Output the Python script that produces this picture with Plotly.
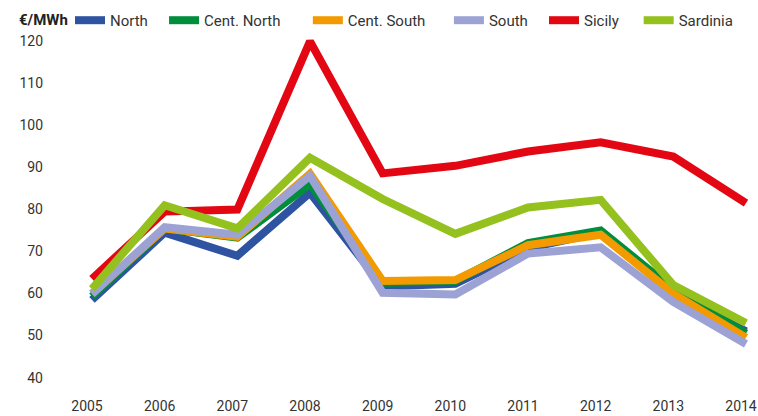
import plotly.graph_objects as go

years = [2005, 2006, 2007, 2008, 2009, 2010, 2011, 2012, 2013, 2014]
north = [58.5, 74.5, 69.0, 84.0, 61.7, 62.3, 70.8, 74.5, 60.0, 51.0]
cent_north = [59.3, 75.5, 73.3, 86.0, 62.5, 63.0, 72.0, 75.0, 61.0, 50.5]
cent_south = [60.0, 75.5, 73.5, 88.5, 63.0, 63.2, 71.5, 74.0, 60.0, 49.5]
south = [59.9, 75.8, 74.0, 88.0, 60.2, 59.8, 69.5, 71.0, 58.0, 48.0]
sicily = [63.5, 79.5, 80.0, 120.0, 88.6, 90.4, 93.8, 96.0, 92.6, 81.5]
sardinia = [61.1, 81.0, 75.5, 92.3, 82.5, 74.2, 80.5, 82.3, 62.0, 53.0]

names = ["North", "Cent. North", "Cent. South", "South", "Sicily", "Sardinia"]
colors = ["#2E53A1", "#008D3C", "#F39A00", "#9CA3D4", "#E30613", "#95C11F"]
values = [north, cent_north, cent_south, south, sicily, sardinia]
legend_pad = [3, 6, 5, 3, 4, 0]  # trailing spaces to widen legend entries

y_ticks = [40, 50, 60, 70, 80, 90, 100, 110, 120]
unit_label = "€/MWh"

fig = go.Figure()
for name, vals, color, pad in zip(names, values, colors, legend_pad):
    fig.add_trace(go.Scatter(
        x=years, y=vals, name=name + "\u00a0" * pad, mode="lines",
        line=dict(color=color, width=8),
        cliponaxis=False,
    ))
# empty trace so the label-only x axis (x2) gets drawn
fig.add_trace(go.Scatter(x=[], y=[], xaxis="x2", yaxis="y", showlegend=False,
                         hoverinfo="skip", mode="lines"))

W, H = 758, 416
ppu = (378 - 41) / 80.0
top_px = 41 - 2 * ppu
bot_px = 378 + 2 * ppu
first_px, last_px = 92, 746          # pixel x of first / last year
left_px, right_px = 84, 754          # plot area edges
ppy = (last_px - first_px) / (years[-1] - years[0])
x_lo = years[0] - (first_px - left_px) / ppy
x_hi = years[-1] + (right_px - last_px) / ppy
ml, mr = left_px, W - right_px
mt, mb = top_px, H - bot_px
pw = right_px - left_px
ph = bot_px - top_px
leg_y = 1 + (top_px - 20) / ph
shift = 5 / ppy  # tick labels sit a few px left of the data points

fig.update_layout(
    width=W, height=H,
    margin=dict(l=ml, r=mr, t=mt, b=mb, autoexpand=False),
    paper_bgcolor="white", plot_bgcolor="white",
    font=dict(family="Roboto, sans-serif", size=15, color="#333333"),
    showlegend=True,
    legend=dict(
        orientation="h", x=(70 - ml) / pw, y=leg_y,
        xanchor="left", yanchor="middle",
        font=dict(size=15, color="#333333"),
        itemwidth=30, tracegroupgap=0,
        bgcolor="rgba(0,0,0,0)",
    ),
    annotations=[dict(
        text="<b>" + unit_label + "</b>", xref="paper", yref="paper",
        x=(17 - ml) / pw, y=leg_y, xanchor="left", yanchor="middle",
        showarrow=False, font=dict(size=15, color="#222222"),
    )],
    xaxis=dict(
        domain=[0, 1], range=[x_lo, x_hi], automargin=False,
        showticklabels=False, ticks="",
        showgrid=False, zeroline=False, showline=False,
    ),
    xaxis2=dict(
        overlaying="x", anchor="y", side="bottom",
        range=[x_lo + shift, x_hi + shift], automargin=False,
        tickmode="array", tickvals=years, ticktext=[str(y) for y in years],
        showgrid=False, zeroline=False, showline=False, ticks="",
        ticklabelstandoff=10, ticklabeloverflow="allow",
        tickfont=dict(size=14, color="#333333"),
    ),
    yaxis=dict(
        range=[38, 122], automargin=False,
        tickmode="array", tickvals=y_ticks, ticktext=[str(v) for v in y_ticks],
        ticks="", ticklabelstandoff=40, ticklabeloverflow="allow",
        showgrid=False, zeroline=False, showline=False,
        tickfont=dict(size=14, color="#333333"),
    ),
)

fig.write_html("out.html", config={"displayModeBar": False},
               post_script="document.body.style.margin='0';")
